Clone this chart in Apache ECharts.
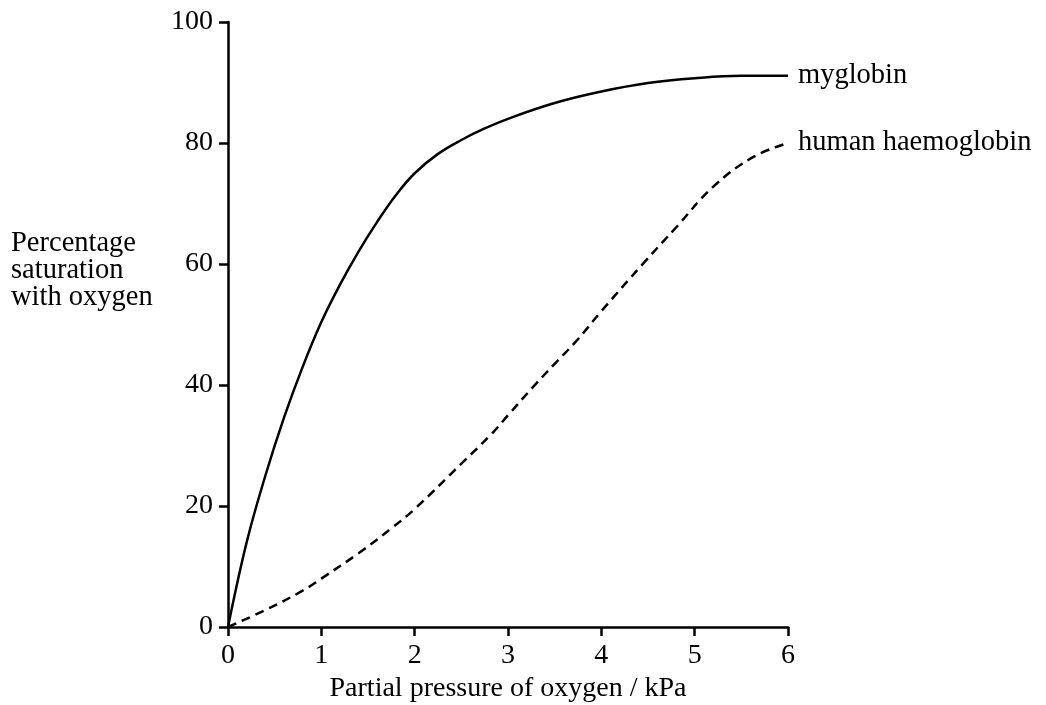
<!DOCTYPE html>
<html lang="en">

<head>
    <meta charset="UTF-8">
    <title>Oxygen dissociation curves</title>
    <script src="https://cdn.jsdelivr.net/npm/echarts@6/dist/echarts.min.js"></script>
    <style>
        body {
            margin: 0;
            background: #fff;
        }
    </style>
</head>

<body>
    <div id="chart" style="width: 1046px; height: 705px;"></div>

    <script>
        // values (x in kPa, y in %)
        let myoPressure = [0, 0.2, 0.4, 0.6, 0.8, 1.0, 1.2, 1.4, 1.6, 1.8, 2.0, 2.25, 2.5, 2.75, 3.0, 3.5, 4.0, 4.5, 5.0, 5.5, 6.0];
        let myoSaturation = [0, 14, 25, 34.6, 43, 50.4, 56.6, 62.1, 67, 71.4, 75, 78.2, 80.5, 82.4, 84, 86.6, 88.5, 89.9, 90.7, 91.1, 91.1];

        let haemPressure = [0, 0.4, 0.8, 1.0, 1.4, 1.75, 2.0, 2.5, 2.83, 3.0, 3.27, 3.5, 3.74, 4.0, 4.45, 4.81, 5.2, 5.63, 6.0];
        let haemSaturation = [0, 2.8, 6.0, 8.0, 12.2, 16.3, 19.5, 27, 32, 35, 39.7, 43.5, 47.4, 52.2, 60.1, 66.2, 72.8, 77.7, 80];

        let seriesNames = ['myglobin', 'human haemoglobin'];
        let xName = 'Partial pressure of oxygen / kPa';
        let yName = 'Percentage\nsaturation\nwith oxygen';

        let font = '"Liberation Serif", "DejaVu Serif", serif';

        let chart = echarts.init(document.getElementById('chart'));

        let axisCommon = {
            type: 'value',
            splitLine: { show: false },
            axisLine: { show: true, onZero: false, lineStyle: { color: '#000', width: 2.5 } },
            axisTick: { show: true, length: 9, lineStyle: { color: '#000', width: 2.5 } },
            axisLabel: { color: '#000', fontSize: 28, fontFamily: font }
        };

        let endLabel = {
            show: true,
            formatter: '{a}',
            color: '#000',
            fontSize: 28.5,
            fontFamily: font,
            distance: 10
        };

        let option = {
            animation: false,
            grid: { left: 228, right: 258, top: 22, bottom: 78, outerBoundsMode: 'none', containLabel: false },
            xAxis: Object.assign({}, axisCommon, {
                min: 0, max: 6, interval: 1,
                name: xName,
                nameLocation: 'middle',
                nameGap: 44,
                nameTextStyle: { color: '#000', fontSize: 28, fontFamily: font },
                axisLabel: Object.assign({}, axisCommon.axisLabel, { margin: 15 })
            }),
            yAxis: Object.assign({}, axisCommon, {
                min: 0, max: 100, interval: 20,
                axisLabel: Object.assign({}, axisCommon.axisLabel, { margin: 15 })
            }),
            graphic: [{
                type: 'text',
                left: 11,
                top: 229,
                style: {
                    text: yName,
                    fill: '#000',
                    font: '28.5px ' + font,
                    lineHeight: 27
                }
            }],
            series: [
                {
                    name: seriesNames[0],
                    type: 'line',
                    smooth: 0.4,
                    showSymbol: false,
                    data: myoPressure.map((p, i) => [p, myoSaturation[i]]),
                    lineStyle: { color: '#000', width: 2.5 },
                    endLabel: endLabel
                },
                {
                    name: seriesNames[1],
                    type: 'line',
                    smooth: 0.4,
                    showSymbol: false,
                    data: haemPressure.map((p, i) => [p, haemSaturation[i]]),
                    lineStyle: { color: '#000', width: 2.5, type: [9, 6] },
                    endLabel: endLabel
                }
            ]
        };

        chart.setOption(option);
    </script>
</body>

</html>
